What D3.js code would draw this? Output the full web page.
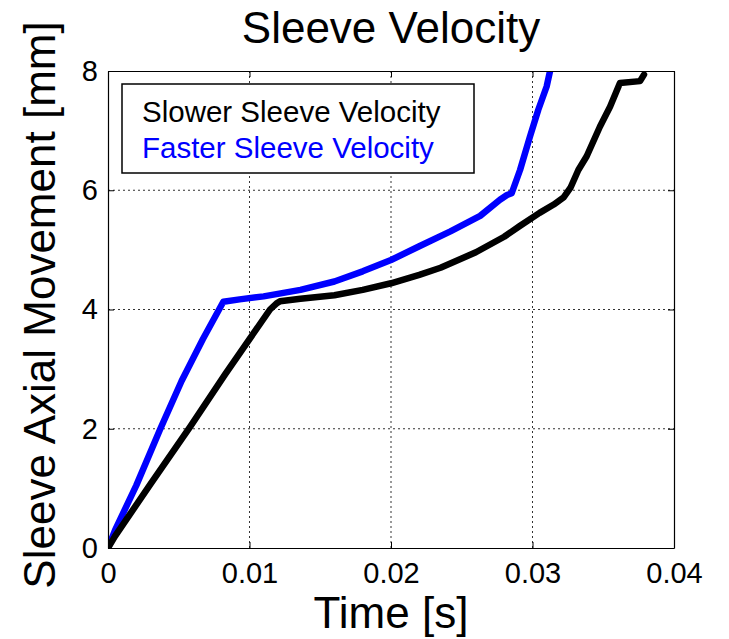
<!DOCTYPE html>
<html>
<head>
<meta charset="utf-8">
<script src="https://cdn.jsdelivr.net/npm/d3@7"></script>
<style>
  body { margin: 0; background: #fff; }
  text { font-family: "Liberation Sans", Arial, sans-serif; }
</style>
</head>
<body>
<div id="chart"></div>
<script>
const WIDTH = 729;
const HEIGHT = 639;

const OFFSET_LEFT = 108;
const OFFSET_RIGHT = 55;   // plot right edge at 674
const OFFSET_TOP = 71;
const OFFSET_BOTTOM = 91;  // plot bottom edge at 548

// data
const slowerTime = [0, 0.0005, 0.003, 0.0058, 0.0083, 0.01145, 0.0119, 0.01216, 0.0136, 0.016, 0.018, 0.02, 0.022,
  0.0235, 0.026, 0.028, 0.0291, 0.0305, 0.0315, 0.0322, 0.0327, 0.03324, 0.03383, 0.03477, 0.03548, 0.03618,
  0.0376, 0.03788];
const slowerMove = [0, 0.2, 1.07, 2.03, 2.92, 4.0, 4.1, 4.14, 4.18, 4.24, 4.33, 4.44, 4.58,
  4.70, 4.96, 5.22, 5.40, 5.62, 5.76, 5.88, 6.05, 6.34, 6.57, 7.07, 7.40, 7.80,
  7.83, 7.94];

const fasterTime = [0, 0.0005, 0.002, 0.0037, 0.0052, 0.0067, 0.00815, 0.0093, 0.011, 0.0122, 0.0136,
  0.016, 0.018, 0.02, 0.022, 0.0242, 0.0263, 0.0277, 0.0282, 0.02853, 0.02912, 0.02982, 0.03041,
  0.031, 0.03124];
const fasterMove = [0, 0.3, 1.05, 2.0, 2.8, 3.5, 4.13, 4.17, 4.22, 4.27, 4.33,
  4.47, 4.64, 4.83, 5.06, 5.31, 5.57, 5.84, 5.92, 5.95, 6.34, 6.90, 7.35,
  7.74, 8.0];

const xTicks = [0, 0.01, 0.02, 0.03, 0.04];
const xTickLabels = ["0", "0.01", "0.02", "0.03", "0.04"];
const yTicks = [0, 2, 4, 6, 8];
const yTickLabels = ["0", "2", "4", "6", "8"];

const seriesNames = ["Slower Sleeve Velocity", "Faster Sleeve Velocity"];
const seriesColors = ["#000000", "#0000ff"];

const slower = slowerTime.map((t, i) => ({ t: t, v: slowerMove[i] }));
const faster = fasterTime.map((t, i) => ({ t: t, v: fasterMove[i] }));

const svg = d3.select("#chart")
  .append("svg")
  .attr("width", WIDTH)
  .attr("height", HEIGHT)
  .style("background-color", "#ffffff");

const xScale = d3.scaleLinear()
  .domain([0, 0.04])
  .range([OFFSET_LEFT, WIDTH - OFFSET_RIGHT]);
const yScale = d3.scaleLinear()
  .domain([0, 8])
  .range([HEIGHT - OFFSET_BOTTOM, OFFSET_TOP]);

const plotW = WIDTH - OFFSET_LEFT - OFFSET_RIGHT;
const plotH = HEIGHT - OFFSET_TOP - OFFSET_BOTTOM;

svg.append("clipPath").attr("id", "plotClip")
  .append("rect")
  .attr("x", OFFSET_LEFT).attr("y", OFFSET_TOP)
  .attr("width", plotW).attr("height", plotH);

// dotted grid lines
svg.append("g")
  .selectAll("line")
  .data(xTicks.slice(1, -1))
  .enter()
  .append("line")
  .attr("x1", d => xScale(d)).attr("x2", d => xScale(d))
  .attr("y1", OFFSET_TOP).attr("y2", HEIGHT - OFFSET_BOTTOM)
  .attr("stroke", "#333").attr("stroke-width", 1)
  .attr("stroke-dasharray", "2,3");

svg.append("g")
  .selectAll("line")
  .data(yTicks.slice(1, -1))
  .enter()
  .append("line")
  .attr("x1", OFFSET_LEFT).attr("x2", WIDTH - OFFSET_RIGHT)
  .attr("y1", d => yScale(d)).attr("y2", d => yScale(d))
  .attr("stroke", "#333").attr("stroke-width", 1)
  .attr("stroke-dasharray", "2,3");

// curves
const line = d3.line()
  .x(d => xScale(d.t))
  .y(d => yScale(d.v));

const curves = svg.append("g").attr("clip-path", "url(#plotClip)");
curves.append("path")
  .datum(faster)
  .attr("d", line)
  .attr("fill", "none")
  .attr("stroke", seriesColors[1])
  .attr("stroke-width", 6.5)
  .attr("stroke-linejoin", "round")
  .attr("stroke-linecap", "round");
curves.append("path")
  .datum(slower)
  .attr("d", line)
  .attr("fill", "none")
  .attr("stroke", seriesColors[0])
  .attr("stroke-width", 6.5)
  .attr("stroke-linejoin", "round")
  .attr("stroke-linecap", "round");

// axes, ticks pointing inwards on all four sides
const xAxisBottom = d3.axisBottom(xScale).tickValues(xTicks)
  .tickFormat((d, i) => xTickLabels[i]).tickSizeInner(-6).tickSizeOuter(0).tickPadding(14);
const xAxisTop = d3.axisTop(xScale).tickValues(xTicks)
  .tickFormat("").tickSizeInner(-6).tickSizeOuter(0);
const yAxisLeft = d3.axisLeft(yScale).tickValues(yTicks)
  .tickFormat((d, i) => yTickLabels[i]).tickSizeInner(-6).tickSizeOuter(0).tickPadding(10);
const yAxisRight = d3.axisRight(yScale).tickValues(yTicks)
  .tickFormat("").tickSizeInner(-6).tickSizeOuter(0);

function styleAxis(g) {
  g.select(".domain").attr("stroke", "#000").attr("stroke-width", 1.2);
  g.selectAll(".tick line").attr("stroke", "#000");
  g.selectAll(".tick text")
    .attr("fill", "#000")
    .style("font-size", "29px")
    .style("font-family", "'Liberation Sans', Arial, sans-serif");
}

svg.append("g")
  .attr("transform", "translate(0," + (HEIGHT - OFFSET_BOTTOM) + ")")
  .call(xAxisBottom)
  .call(styleAxis);
svg.append("g")
  .attr("transform", "translate(0," + OFFSET_TOP + ")")
  .call(xAxisTop)
  .call(styleAxis);
svg.append("g")
  .attr("transform", "translate(" + OFFSET_LEFT + ",0)")
  .call(yAxisLeft)
  .call(styleAxis);
svg.append("g")
  .attr("transform", "translate(" + (WIDTH - OFFSET_RIGHT) + ",0)")
  .call(yAxisRight)
  .call(styleAxis);

// title and axis labels
svg.append("text")
  .attr("x", OFFSET_LEFT + plotW / 2)
  .attr("y", 43)
  .attr("text-anchor", "middle")
  .style("font-size", "44px")
  .attr("fill", "#000")
  .text("Sleeve Velocity");

svg.append("text")
  .attr("x", OFFSET_LEFT + plotW / 2)
  .attr("y", 628)
  .attr("text-anchor", "middle")
  .style("font-size", "44px")
  .attr("fill", "#000")
  .text("Time [s]");

svg.append("text")
  .attr("transform", "translate(55," + 305 + ") rotate(-90)")
  .attr("text-anchor", "middle")
  .style("font-size", "44px")
  .attr("fill", "#000")
  .text("Sleeve Axial Movement [mm]");

// legend
const legend = svg.append("g");
legend.append("rect")
  .attr("x", 122).attr("y", 84)
  .attr("width", 352).attr("height", 89)
  .attr("fill", "#fff")
  .attr("stroke", "#000")
  .attr("stroke-width", 1.5);
legend.selectAll("text")
  .data(seriesNames)
  .enter()
  .append("text")
  .attr("x", 142)
  .attr("y", (d, i) => 122 + i * 35.5)
  .style("font-size", "29.5px")
  .attr("fill", (d, i) => seriesColors[i])
  .text(d => d);
</script>
</body>
</html>
